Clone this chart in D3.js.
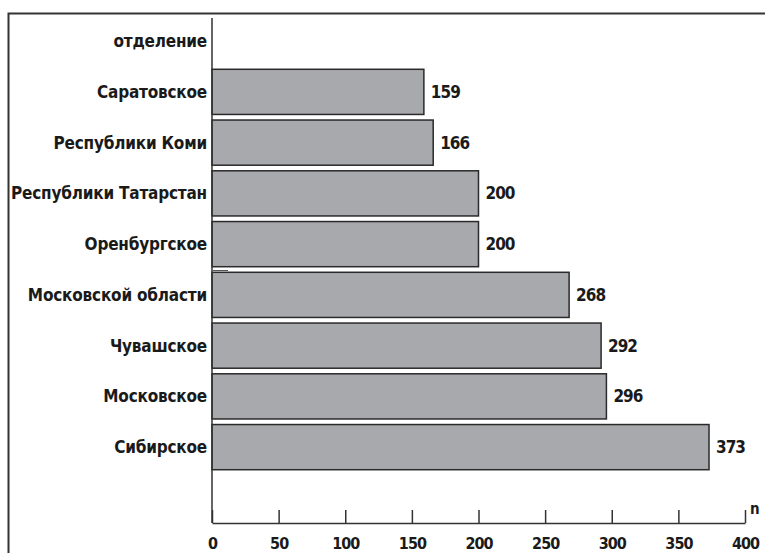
<!DOCTYPE html>
<html>
<head>
<meta charset="utf-8">
<script src="https://cdn.jsdelivr.net/npm/d3@7"></script>
<style>
  body { margin: 0; background: #fff; }
  text { font-family: "DejaVu Sans Condensed", "Liberation Sans Narrow", "Liberation Sans", sans-serif; font-weight: bold; fill: #1a1a1a; }
</style>
</head>
<body>
<script>
'use strict';
// отделения и число наблюдений
const departments = ["Саратовское", "Республики Коми", "Республики Татарстан", "Оренбургское",
    "Московской области", "Чувашское", "Московское", "Сибирское"];
const counts = [159, 166, 200, 200, 268, 292, 296, 373];
const xTicks = [0, 50, 100, 150, 200, 250, 300, 350, 400];
const headerLabel = "отделение";
const axisLabel = "n";

window.onload = function() {
    let svg = d3.select('body')
        .append('svg')
        .attr('width', 765)
        .attr('height', 553);

    // outer frame (left and top edges only visible)
    svg.append('path')
        .attr('d', 'M8.5,560 L8.5,13.5 L780,13.5')
        .attr('fill', 'none')
        .attr('stroke', '#333')
        .attr('stroke-width', 2);

    let xScale = d3.scaleLinear()
        .domain([0, 400])
        .range([212, 745]);

    // header row + bars + empty row at bottom
    let rows = [headerLabel].concat(departments).concat(["__empty"]);
    let yScale = d3.scaleBand()
        .domain(rows)
        .range([16, 523])
        .paddingInner(0.11)
        .paddingOuter(0.05);

    let data = departments.map((d, i) => ({name: d, n: counts[i]}));

    // bars
    svg.selectAll('.bar')
        .data(data)
        .enter()
        .append('rect')
        .attr('class', 'bar')
        .attr('x', xScale(0))
        .attr('y', d => yScale(d.name))
        .attr('width', d => xScale(d.n) - xScale(0))
        .attr('height', yScale.bandwidth())
        .attr('fill', '#a8a9ac')
        .attr('stroke', '#2a2a2a')
        .attr('stroke-width', 1.5);

    // value labels
    svg.selectAll('.val')
        .data(data)
        .enter()
        .append('text')
        .attr('x', d => xScale(d.n) + 7)
        .attr('y', d => yScale(d.name) + yScale.bandwidth() / 2)
        .attr('dy', '0.35em')
        .style('font-size', '17px')
        .style('letter-spacing', '-1px')
        .text(d => d.n);

    // category labels
    svg.selectAll('.cat')
        .data([headerLabel].concat(departments))
        .enter()
        .append('text')
        .attr('x', 207)
        .attr('y', d => yScale(d) + yScale.bandwidth() / 2)
        .attr('dy', '0.35em')
        .attr('text-anchor', 'end')
        .style('font-size', '17px')
        .style('letter-spacing', '-0.2px')
        .text(d => d);

    // y axis line
    svg.append('line')
        .attr('x1', xScale(0)).attr('x2', xScale(0))
        .attr('y1', 18).attr('y2', 523)
        .attr('stroke', '#333')
        .attr('stroke-width', 1.5);

    // small mark near axis
    svg.append('line')
        .attr('x1', xScale(0) + 1).attr('x2', xScale(12))
        .attr('y1', 270.5).attr('y2', 270.5)
        .attr('stroke', '#555')
        .attr('stroke-width', 1);

    // x axis with inward ticks
    let xAxis = d3.axisBottom(xScale)
        .tickValues(xTicks)
        .tickSizeInner(-13)
        .tickSizeOuter(0)
        .tickPadding(15)
        .tickFormat(d3.format('d'));
    let gx = svg.append('g')
        .attr('transform', 'translate(0,523)')
        .call(xAxis);
    gx.select('.domain').attr('stroke', '#333').attr('stroke-width', 1.5);
    gx.selectAll('.tick line').attr('stroke', '#333').attr('stroke-width', 1.5);
    gx.selectAll('.tick text')
        .style('font-family', '"DejaVu Sans Condensed", "Liberation Sans Narrow", sans-serif')
        .style('font-weight', 'bold')
        .style('font-size', '16px')
        .style('letter-spacing', '-1px')
        .attr('fill', '#1a1a1a');

    svg.append('text')
        .attr('x', xScale(400) + 5)
        .attr('y', 514)
        .style('font-size', '15px')
        .text(axisLabel);
};
</script>
</body>
</html>
